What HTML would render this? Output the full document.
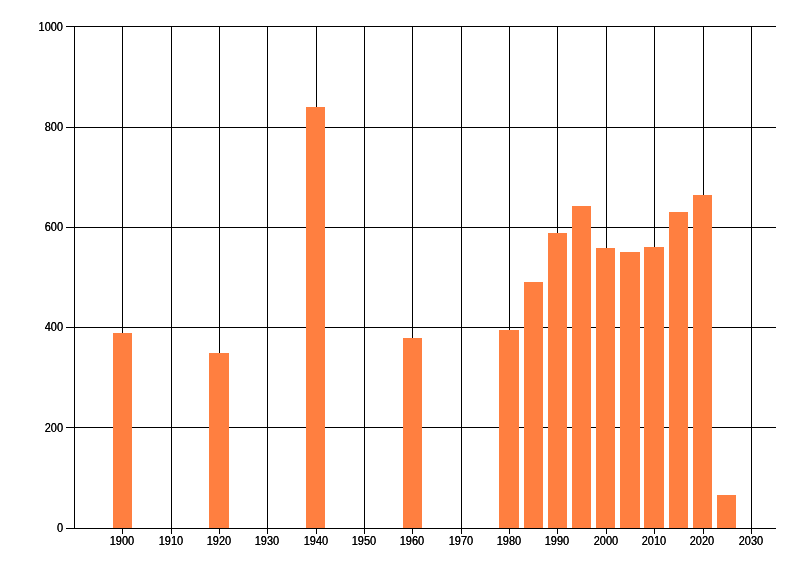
<!DOCTYPE html>
<html><head><meta charset="utf-8"><title>Chart</title>
<style>
html,body{margin:0;padding:0;background:#fff;}
body{width:800px;height:576px;position:relative;overflow:hidden;font-family:"Liberation Sans",sans-serif;color:#000;}
.l{position:absolute;background:#000;}
.b{position:absolute;background:#FF7F40;}
.t{position:absolute;font-size:11px;line-height:12px;height:12px;white-space:nowrap;transform:scaleY(1.125);text-shadow:0 0 0 #000;}
.y{text-align:right;transform-origin:100% 50%;width:40px;}
.x{text-align:center;transform-origin:50% 50%;width:40px;}
</style></head><body>

<div class="l" style="left:66px;top:26px;width:710px;height:1px"></div>
<div class="l" style="left:66px;top:127px;width:710px;height:1px"></div>
<div class="l" style="left:66px;top:227px;width:710px;height:1px"></div>
<div class="l" style="left:66px;top:327px;width:710px;height:1px"></div>
<div class="l" style="left:66px;top:427px;width:710px;height:1px"></div>
<div class="l" style="left:66px;top:528px;width:710px;height:1px"></div>
<div class="l" style="left:74px;top:26px;width:1px;height:503px"></div>
<div class="l" style="left:122px;top:26px;width:1px;height:508px"></div>
<div class="l" style="left:171px;top:26px;width:1px;height:508px"></div>
<div class="l" style="left:219px;top:26px;width:1px;height:508px"></div>
<div class="l" style="left:267px;top:26px;width:1px;height:508px"></div>
<div class="l" style="left:316px;top:26px;width:1px;height:508px"></div>
<div class="l" style="left:364px;top:26px;width:1px;height:508px"></div>
<div class="l" style="left:412px;top:26px;width:1px;height:508px"></div>
<div class="l" style="left:461px;top:26px;width:1px;height:508px"></div>
<div class="l" style="left:509px;top:26px;width:1px;height:508px"></div>
<div class="l" style="left:557px;top:26px;width:1px;height:508px"></div>
<div class="l" style="left:606px;top:26px;width:1px;height:508px"></div>
<div class="l" style="left:654px;top:26px;width:1px;height:508px"></div>
<div class="l" style="left:703px;top:26px;width:1px;height:508px"></div>
<div class="l" style="left:751px;top:26px;width:1px;height:508px"></div>
<div class="b" style="left:113px;top:333px;width:19px;height:195px"></div>
<div class="b" style="left:209px;top:353px;width:20px;height:175px"></div>
<div class="b" style="left:306px;top:107px;width:19px;height:421px"></div>
<div class="b" style="left:403px;top:338px;width:19px;height:190px"></div>
<div class="b" style="left:499px;top:330px;width:20px;height:198px"></div>
<div class="b" style="left:524px;top:282px;width:19px;height:246px"></div>
<div class="b" style="left:548px;top:233px;width:19px;height:295px"></div>
<div class="b" style="left:572px;top:206px;width:19px;height:322px"></div>
<div class="b" style="left:596px;top:248px;width:19px;height:280px"></div>
<div class="b" style="left:620px;top:252px;width:20px;height:276px"></div>
<div class="b" style="left:644px;top:247px;width:20px;height:281px"></div>
<div class="b" style="left:669px;top:212px;width:19px;height:316px"></div>
<div class="b" style="left:693px;top:195px;width:19px;height:333px"></div>
<div class="b" style="left:717px;top:495px;width:19px;height:33px"></div>
<div class="t y" style="left:23px;top:20px">1000</div>
<div class="t y" style="left:23px;top:120px">800</div>
<div class="t y" style="left:23px;top:220px">600</div>
<div class="t y" style="left:23px;top:320px">400</div>
<div class="t y" style="left:23px;top:421px">200</div>
<div class="t y" style="left:23px;top:521px">0</div>
<div class="t x" style="left:102px;top:534px">1900</div>
<div class="t x" style="left:151px;top:534px">1910</div>
<div class="t x" style="left:199px;top:534px">1920</div>
<div class="t x" style="left:247px;top:534px">1930</div>
<div class="t x" style="left:296px;top:534px">1940</div>
<div class="t x" style="left:344px;top:534px">1950</div>
<div class="t x" style="left:392px;top:534px">1960</div>
<div class="t x" style="left:441px;top:534px">1970</div>
<div class="t x" style="left:489px;top:534px">1980</div>
<div class="t x" style="left:537px;top:534px">1990</div>
<div class="t x" style="left:586px;top:534px">2000</div>
<div class="t x" style="left:634px;top:534px">2010</div>
<div class="t x" style="left:682px;top:534px">2020</div>
<div class="t x" style="left:731px;top:534px">2030</div>
</body></html>
